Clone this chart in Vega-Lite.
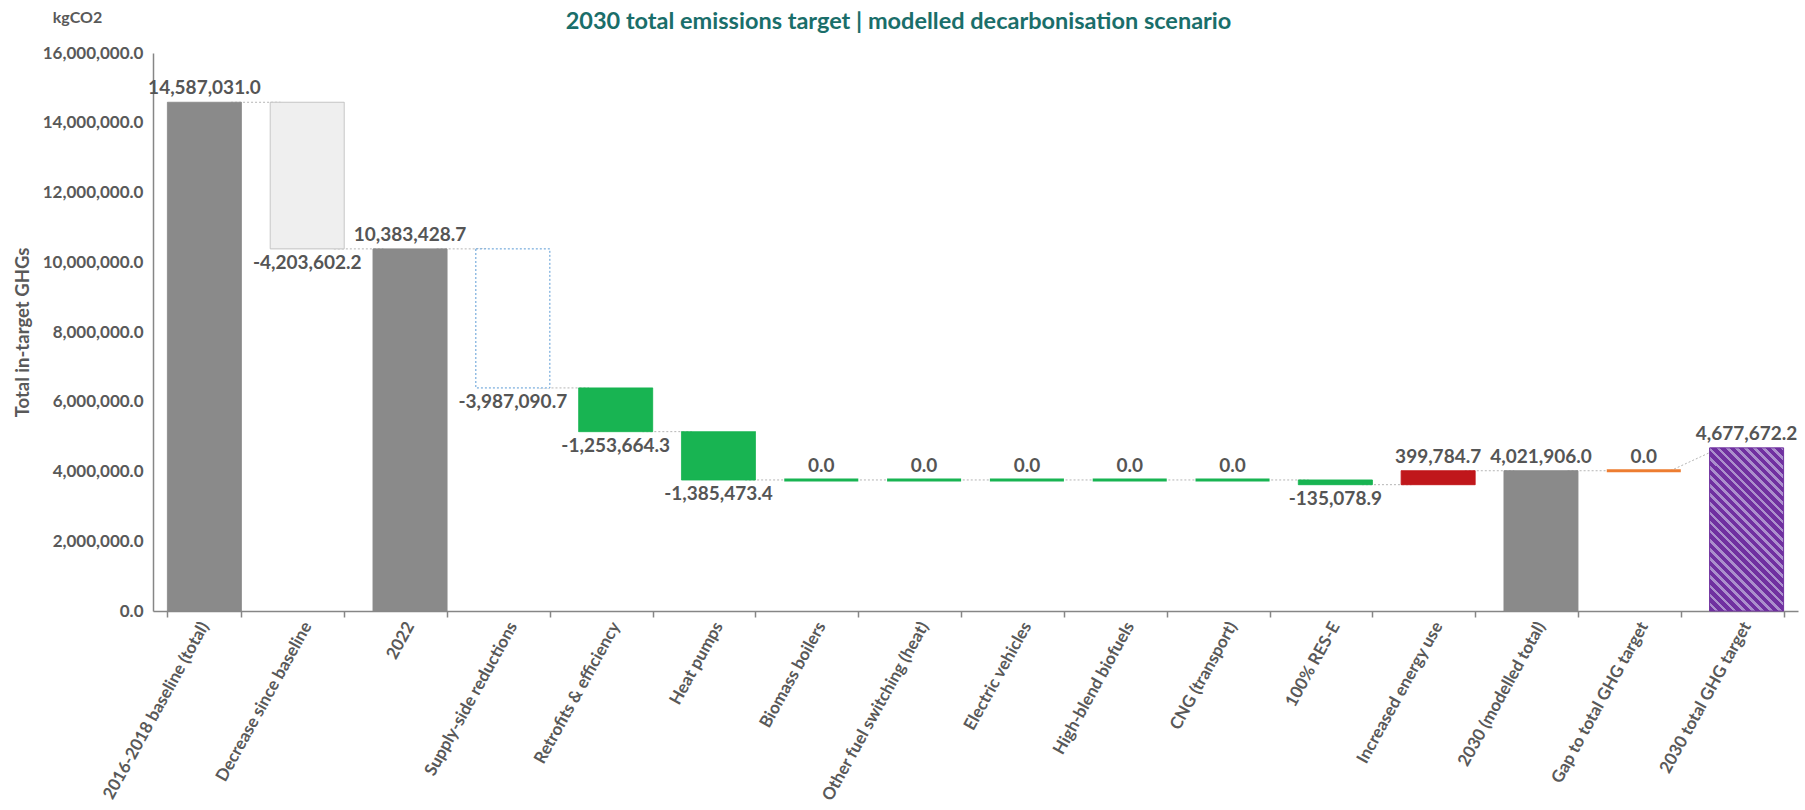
{
  "$schema": "https://vega.github.io/schema/vega-lite/v6.json",
  "width": 1645,
  "height": 558,
  "autosize": {"type": "none"},
  "padding": {"left": 153, "top": 53, "right": 7, "bottom": 199},
  "background": "#ffffff",
  "title": {"text": "2030 total emissions target | modelled decarbonisation scenario", "font": "Lato", "fontSize": 23.5, "fontWeight": "bold", "color": "#1a6e6a", "anchor": "middle", "dy": 28, "dx": -77},
  "config": {
    "view": {"stroke": null},
    "font": "Lato",
    "locale": {"number": {"decimal": ".", "thousands": ",", "grouping": [3], "currency": ["$", ""], "minus": "-"}},
    "axisX": {"labelAngle": -61, "labelFont": "Lato", "labelFontSize": 17, "labelFontWeight": "bold", "labelColor": "#595959", "labelPadding": 6, "tickBand": "extent", "tickSize": 6, "tickColor": "#868686", "tickWidth": 1.5, "domainColor": "#868686", "domainWidth": 1.5, "grid": false, "labelLimit": 320},
    "axisY": {"labelFont": "Lato", "labelFontSize": 17, "labelFontWeight": "bold", "labelColor": "#595959", "labelPadding": 10, "ticks": false, "domainColor": "#868686", "domainWidth": 1.5, "gridColor": "#d9d9d9", "gridWidth": 1.2, "titleFont": "Lato", "titleFontSize": 18.5, "titleFontWeight": "bold", "titleColor": "#595959"}
  },
  "datasets": {
    "bars": [
      {"cat": "2016-2018 baseline (total)", "value": 14587031.0, "start": 0, "end": 14587031.0, "type": "total"},
      {"cat": "Decrease since baseline", "value": -4203602.2, "start": 14587031.0, "end": 10383428.8, "type": "decbase"},
      {"cat": "2022", "value": 10383428.7, "start": 0, "end": 10383428.7, "type": "total"},
      {"cat": "Supply-side reductions", "value": -3987090.7, "start": 10383428.7, "end": 6396338.0, "type": "supply"},
      {"cat": "Retrofits & efficiency", "value": -1253664.3, "start": 6396338.0, "end": 5142673.7, "type": "reduction"},
      {"cat": "Heat pumps", "value": -1385473.4, "start": 5142673.7, "end": 3757200.3, "type": "reduction"},
      {"cat": "Biomass boilers", "value": 0, "start": 3757200.3, "end": 3757200.3, "type": "reduction"},
      {"cat": "Other fuel switching (heat)", "value": 0, "start": 3757200.3, "end": 3757200.3, "type": "reduction"},
      {"cat": "Electric vehicles", "value": 0, "start": 3757200.3, "end": 3757200.3, "type": "reduction"},
      {"cat": "High-blend biofuels", "value": 0, "start": 3757200.3, "end": 3757200.3, "type": "reduction"},
      {"cat": "CNG (transport)", "value": 0, "start": 3757200.3, "end": 3757200.3, "type": "reduction"},
      {"cat": "100% RES-E", "value": -135078.9, "start": 3757200.3, "end": 3622121.4, "type": "reduction"},
      {"cat": "Increased energy use", "value": 399784.7, "start": 3622121.4, "end": 4021906.1, "type": "increase"},
      {"cat": "2030 (modelled total)", "value": 4021906.0, "start": 0, "end": 4021906.0, "type": "total"},
      {"cat": "Gap to total GHG target", "value": 0, "start": 4021906.0, "end": 4021906.0, "type": "gap"},
      {"cat": "2030 total GHG target", "value": 4677672.2, "start": 0, "end": 4677672.2, "type": "target"}
    ],
    "links": [
      {"from": "2016-2018 baseline (total)", "to": "Decrease since baseline", "level": 14587031.0, "level2": 14587031.0},
      {"from": "Decrease since baseline", "to": "2022", "level": 10383428.7, "level2": 10383428.7},
      {"from": "2022", "to": "Supply-side reductions", "level": 10383428.7, "level2": 10383428.7},
      {"from": "Supply-side reductions", "to": "Retrofits & efficiency", "level": 6396338.0, "level2": 6396338.0},
      {"from": "Retrofits & efficiency", "to": "Heat pumps", "level": 5142673.7, "level2": 5142673.7},
      {"from": "Heat pumps", "to": "Biomass boilers", "level": 3757200.3, "level2": 3757200.3},
      {"from": "Biomass boilers", "to": "Other fuel switching (heat)", "level": 3757200.3, "level2": 3757200.3},
      {"from": "Other fuel switching (heat)", "to": "Electric vehicles", "level": 3757200.3, "level2": 3757200.3},
      {"from": "Electric vehicles", "to": "High-blend biofuels", "level": 3757200.3, "level2": 3757200.3},
      {"from": "High-blend biofuels", "to": "CNG (transport)", "level": 3757200.3, "level2": 3757200.3},
      {"from": "CNG (transport)", "to": "100% RES-E", "level": 3757200.3, "level2": 3757200.3},
      {"from": "100% RES-E", "to": "Increased energy use", "level": 3622121.4, "level2": 3622121.4},
      {"from": "Increased energy use", "to": "2030 (modelled total)", "level": 4021906.0, "level2": 4021906.0},
      {"from": "2030 (modelled total)", "to": "Gap to total GHG target", "level": 4021906.0, "level2": 4021906.0},
      {"from": "Gap to total GHG target", "to": "2030 total GHG target", "level": 4021906.0, "level2": 4677672.2}
    ]
  },
  "layer": [
    {
      "data": {"name": "links"},
      "mark": {"type": "rule", "color": "#b5b5b5", "strokeWidth": 1, "strokeDash": [2, 2]},
      "encoding": {
        "x": {"field": "from", "type": "nominal", "bandPosition": 0.86, "axis": {"title": null},
              "scale": {"domain": ["2016-2018 baseline (total)", "Decrease since baseline", "2022", "Supply-side reductions", "Retrofits & efficiency", "Heat pumps", "Biomass boilers", "Other fuel switching (heat)", "Electric vehicles", "High-blend biofuels", "CNG (transport)", "100% RES-E", "Increased energy use", "2030 (modelled total)", "Gap to total GHG target", "2030 total GHG target"], "paddingInner": 0.28, "paddingOuter": 0.14}},
        "x2": {"field": "to", "bandPosition": 0.14},
        "y": {"field": "level", "type": "quantitative", "scale": {"domain": [0, 16000000], "nice": false},
              "axis": {"title": "kgCO2", "orient": "left", "labels": false, "ticks": false, "domain": false, "grid": false, "titleAngle": 0, "titleX": -76, "titleY": -36, "titleAlign": "center", "titleBaseline": "middle", "titleFontSize": 16}},
        "y2": {"field": "level2"}
      }
    },
    {
      "data": {"name": "bars"},
      "transform": [{"filter": "datum.type !== 'target'"}],
      "mark": {"type": "bar"},
      "encoding": {
        "x": {"field": "cat", "type": "nominal", "sort": null, "axis": {"title": null}},
        "y": {"field": "start", "type": "quantitative",
              "axis": {"title": "Total in-target GHGs", "orient": "left", "values": [0, 2000000, 4000000, 6000000, 8000000, 10000000, 12000000, 14000000, 16000000], "format": ",.1f", "titleX": -131, "titleY": 279, "titleAngle": -90, "titleAlign": "center", "titleBaseline": "middle"}},
        "y2": {"field": "end"},
        "fill": {"field": "type", "type": "nominal", "legend": null,
                 "scale": {"domain": ["total", "decbase", "supply", "reduction", "increase", "gap"], "range": ["#8a8a8a", "#efefef", "#ffffff", "#18b452", "#c0171b", "#ed7d31"]}},
        "stroke": {"field": "type", "type": "nominal", "legend": null,
                   "scale": {"domain": ["total", "decbase", "supply", "reduction", "increase", "gap"], "range": ["#8a8a8a", "#bfbfbf", "#5b9bd5", "#18b452", "#c0171b", "#ed7d31"]}},
        "strokeWidth": {"condition": {"test": "datum.value === 0", "value": 3}, "value": 1},
        "strokeDash": {"condition": {"test": "datum.type === 'supply'", "value": [2, 2]}, "value": [1, 0]}
      }
    },
    {
      "data": {"name": "bars"},
      "transform": [{"filter": "datum.type === 'target'"}],
      "mark": {"type": "bar", "stroke": "#7030a0", "strokeWidth": 1,
               "fill": {"gradient": "linear", "x1": 0, "y1": 1, "x2": 0.547, "y2": -0.2056, "stops": [
                 {"offset": 0, "color": "#7030a0"}, {"offset": 0.02308, "color": "#7030a0"}, {"offset": 0.02308, "color": "#ab8fcc"}, {"offset": 0.03846, "color": "#ab8fcc"},
                 {"offset": 0.03846, "color": "#7030a0"}, {"offset": 0.06154, "color": "#7030a0"}, {"offset": 0.06154, "color": "#ab8fcc"}, {"offset": 0.07692, "color": "#ab8fcc"},
                 {"offset": 0.07692, "color": "#7030a0"}, {"offset": 0.1, "color": "#7030a0"}, {"offset": 0.1, "color": "#ab8fcc"}, {"offset": 0.11538, "color": "#ab8fcc"},
                 {"offset": 0.11538, "color": "#7030a0"}, {"offset": 0.13846, "color": "#7030a0"}, {"offset": 0.13846, "color": "#ab8fcc"}, {"offset": 0.15385, "color": "#ab8fcc"},
                 {"offset": 0.15385, "color": "#7030a0"}, {"offset": 0.17692, "color": "#7030a0"}, {"offset": 0.17692, "color": "#ab8fcc"}, {"offset": 0.19231, "color": "#ab8fcc"},
                 {"offset": 0.19231, "color": "#7030a0"}, {"offset": 0.21538, "color": "#7030a0"}, {"offset": 0.21538, "color": "#ab8fcc"}, {"offset": 0.23077, "color": "#ab8fcc"},
                 {"offset": 0.23077, "color": "#7030a0"}, {"offset": 0.25385, "color": "#7030a0"}, {"offset": 0.25385, "color": "#ab8fcc"}, {"offset": 0.26923, "color": "#ab8fcc"},
                 {"offset": 0.26923, "color": "#7030a0"}, {"offset": 0.29231, "color": "#7030a0"}, {"offset": 0.29231, "color": "#ab8fcc"}, {"offset": 0.30769, "color": "#ab8fcc"},
                 {"offset": 0.30769, "color": "#7030a0"}, {"offset": 0.33077, "color": "#7030a0"}, {"offset": 0.33077, "color": "#ab8fcc"}, {"offset": 0.34615, "color": "#ab8fcc"},
                 {"offset": 0.34615, "color": "#7030a0"}, {"offset": 0.36923, "color": "#7030a0"}, {"offset": 0.36923, "color": "#ab8fcc"}, {"offset": 0.38462, "color": "#ab8fcc"},
                 {"offset": 0.38462, "color": "#7030a0"}, {"offset": 0.40769, "color": "#7030a0"}, {"offset": 0.40769, "color": "#ab8fcc"}, {"offset": 0.42308, "color": "#ab8fcc"},
                 {"offset": 0.42308, "color": "#7030a0"}, {"offset": 0.44615, "color": "#7030a0"}, {"offset": 0.44615, "color": "#ab8fcc"}, {"offset": 0.46154, "color": "#ab8fcc"},
                 {"offset": 0.46154, "color": "#7030a0"}, {"offset": 0.48462, "color": "#7030a0"}, {"offset": 0.48462, "color": "#ab8fcc"}, {"offset": 0.5, "color": "#ab8fcc"},
                 {"offset": 0.5, "color": "#7030a0"}, {"offset": 0.52308, "color": "#7030a0"}, {"offset": 0.52308, "color": "#ab8fcc"}, {"offset": 0.53846, "color": "#ab8fcc"},
                 {"offset": 0.53846, "color": "#7030a0"}, {"offset": 0.56154, "color": "#7030a0"}, {"offset": 0.56154, "color": "#ab8fcc"}, {"offset": 0.57692, "color": "#ab8fcc"},
                 {"offset": 0.57692, "color": "#7030a0"}, {"offset": 0.6, "color": "#7030a0"}, {"offset": 0.6, "color": "#ab8fcc"}, {"offset": 0.61538, "color": "#ab8fcc"},
                 {"offset": 0.61538, "color": "#7030a0"}, {"offset": 0.63846, "color": "#7030a0"}, {"offset": 0.63846, "color": "#ab8fcc"}, {"offset": 0.65385, "color": "#ab8fcc"},
                 {"offset": 0.65385, "color": "#7030a0"}, {"offset": 0.67692, "color": "#7030a0"}, {"offset": 0.67692, "color": "#ab8fcc"}, {"offset": 0.69231, "color": "#ab8fcc"},
                 {"offset": 0.69231, "color": "#7030a0"}, {"offset": 0.71538, "color": "#7030a0"}, {"offset": 0.71538, "color": "#ab8fcc"}, {"offset": 0.73077, "color": "#ab8fcc"},
                 {"offset": 0.73077, "color": "#7030a0"}, {"offset": 0.75385, "color": "#7030a0"}, {"offset": 0.75385, "color": "#ab8fcc"}, {"offset": 0.76923, "color": "#ab8fcc"},
                 {"offset": 0.76923, "color": "#7030a0"}, {"offset": 0.79231, "color": "#7030a0"}, {"offset": 0.79231, "color": "#ab8fcc"}, {"offset": 0.80769, "color": "#ab8fcc"},
                 {"offset": 0.80769, "color": "#7030a0"}, {"offset": 0.83077, "color": "#7030a0"}, {"offset": 0.83077, "color": "#ab8fcc"}, {"offset": 0.84615, "color": "#ab8fcc"},
                 {"offset": 0.84615, "color": "#7030a0"}, {"offset": 0.86923, "color": "#7030a0"}, {"offset": 0.86923, "color": "#ab8fcc"}, {"offset": 0.88462, "color": "#ab8fcc"},
                 {"offset": 0.88462, "color": "#7030a0"}, {"offset": 0.90769, "color": "#7030a0"}, {"offset": 0.90769, "color": "#ab8fcc"}, {"offset": 0.92308, "color": "#ab8fcc"},
                 {"offset": 0.92308, "color": "#7030a0"}, {"offset": 0.94615, "color": "#7030a0"}, {"offset": 0.94615, "color": "#ab8fcc"}, {"offset": 0.96154, "color": "#ab8fcc"},
                 {"offset": 0.96154, "color": "#7030a0"}, {"offset": 0.98462, "color": "#7030a0"}, {"offset": 0.98462, "color": "#ab8fcc"}, {"offset": 1, "color": "#ab8fcc"}
               ]}},
      "encoding": {
        "x": {"field": "cat", "type": "nominal", "axis": {"title": null}},
        "y": {"field": "start", "type": "quantitative", "axis": null},
        "y2": {"field": "end"}
      }
    },
    {
      "data": {"name": "bars"},
      "transform": [{"filter": "datum.value >= 0"}],
      "mark": {"type": "text", "baseline": "bottom", "dy": -4, "font": "Lato", "fontSize": 19, "fontWeight": "bold", "color": "#555555"},
      "encoding": {
        "x": {"field": "cat", "type": "nominal", "axis": {"title": null}},
        "y": {"field": "end", "type": "quantitative", "axis": null},
        "text": {"field": "value", "type": "quantitative", "format": ",.1f"}
      }
    },
    {
      "data": {"name": "bars"},
      "transform": [{"filter": "datum.value < 0"}],
      "mark": {"type": "text", "baseline": "top", "dy": 5, "font": "Lato", "fontSize": 19, "fontWeight": "bold", "color": "#555555"},
      "encoding": {
        "x": {"field": "cat", "type": "nominal", "axis": {"title": null}},
        "y": {"field": "end", "type": "quantitative", "axis": null},
        "text": {"field": "value", "type": "quantitative", "format": ",.1f"}
      }
    }
  ],
  "resolve": {"axis": {"y": "independent"}}
}
